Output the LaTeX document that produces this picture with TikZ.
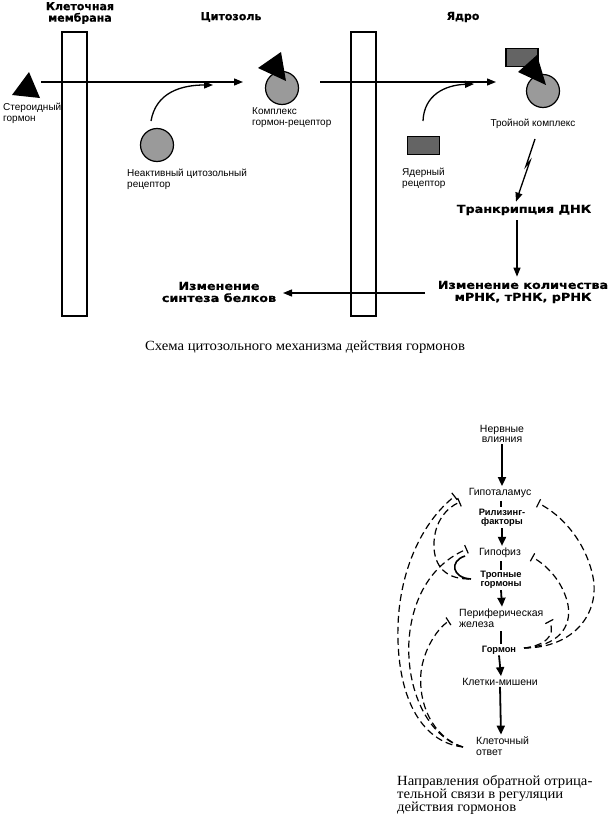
\documentclass[tikz,border=0pt]{standalone}
\usepackage{fontspec}
\setmainfont{Liberation Sans}
\newfontfamily\heavy{DejaVu Sans}[FakeBold=0.6]
\newfontfamily\heavyw{DejaVu Sans}[FakeStretch=1.16, FakeBold=0.6]
\newfontfamily\capfont{Liberation Serif}[FakeStretch=1.05]
\usetikzlibrary{arrows.meta,calc}
\definecolor{lightg}{HTML}{9A9A9A}
\definecolor{darkg}{HTML}{646464}
\tikzset{
  lbl/.style={font=\fontsize{10}{11}\selectfont, align=left, inner sep=0pt},
  lblc/.style={font=\fontsize{10}{11}\selectfont, align=center, inner sep=0pt},
  hd/.style={font=\heavy\bfseries\fontsize{11}{11.5}\selectfont, align=center, inner sep=0pt},
  hdw/.style={font=\heavyw\bfseries\fontsize{11}{12}\selectfont, align=center, inner sep=0pt},
  lo/.style={font=\fontsize{10.5}{10.5}\selectfont, align=center, inner sep=1pt},
  lob/.style={font=\bfseries\fontsize{9.3}{9.5}\selectfont, align=center, inner sep=1pt},
  memb/.style={draw, line width=1.2pt, minimum width=25pt, minimum height=284pt, inner sep=0pt, outer sep=0pt, anchor=north west},
  rec/.style={draw, circle, fill=lightg, line width=1.2pt, minimum size=33pt, inner sep=0pt},
  nrec/.style={draw, rectangle, fill=darkg, line width=1.2pt, minimum width=32pt, minimum height=18pt, inner sep=0pt},
  arr/.style={line width=1.3pt, -{Triangle[length=9pt,width=7pt]}},
  arrb/.style={line width=1.8pt, -{Triangle[length=9pt,width=8pt]}},
  stem/.style={line width=1.8pt},
  fb/.style={line width=1.2pt, dash pattern=on 7pt off 4pt},
  inh/.style={-{Bar[width=9pt,line width=1.2pt]}},
  captxt/.style={font=\capfont\fontsize{14}{13.3}\selectfont, inner sep=0pt}
}
\begin{document}
\begin{tikzpicture}[x=1pt,y=-1pt]
\useasboundingbox (0,0) rectangle (611,819);
% ---------- top diagram ----------
\node[hd] (hmem) at (80,13) {Клеточная\\мембрана};
\node[hd] (hcyt) at (231,17) {Цитозоль};
\node[hd] (hnuc) at (463,17) {Ядро};
\node[memb] (mem1) at (62,32) {};
\node[memb] (mem2) at (351,32) {};
% hormone
\fill (29,72) -- (12,95) -- (40,98) -- cycle;
\node[lbl, anchor=west] (lhorm) at (3,113) {Стероидный\\гормон};
\coordinate (h0) at (41,82);
\coordinate (c0) at (243,82);
\draw[arr] (h0) -- (c0);
% inactive receptor
\node[rec] (inact) at (157,145) {};
\node[lbl, anchor=west] (linact) at (127,179) {Неактивный цитозольный\\рецептор};
\coordinate (r1s) at (151,121);
\coordinate (r1e) at (213,85);
\draw[arr] (r1s) .. controls (156,92) and (182,85) .. (r1e);
% complex
\node[rec] (cplx) at (282,88) {};
\fill (281,52) -- (258,68) -- (286,81) -- cycle;
\node[lbl, anchor=west] (lcplx) at (252,118) {Комплекс\\гормон-рецептор};
\coordinate (h1) at (320,82);
\coordinate (c1) at (496,82);
\draw[arr] (h1) -- (c1);
% nuclear receptor
\node[nrec] (nrec) at (423.5,145.5) {};
\node[lbl, anchor=west] (lnrec) at (402,178) {Ядерный\\рецептор};
\coordinate (r2s) at (423,121);
\coordinate (r2e) at (474,84);
\draw[arr] (r2s) .. controls (424,95) and (445,85) .. (r2e);
% triple complex
\node[nrec] (tdark) at (522,57.5) {};
\node[rec] (tcirc) at (543,91) {};
\fill (537,55) -- (518,72) -- (546,85) -- cycle;
\node[lblc] (ltrip) at (533,124) {Тройной комплекс};
\coordinate (z0) at (535,139);
\coordinate (z1) at (526,166);
\coordinate (z2) at (530,161);
\node[hdw] (trans) at (524,210) {Транкрипция ДНК};
\draw[arr] (z0) -- (z1) -- (z2) -- ($(trans.north)+(-8,-3)$);
\node[hdw] (chg) at (523,292) {Изменение количества\\мРНК, тРНК, рРНК};
\draw[arr] ($(trans.south)+(-7,5)$) -- ($(chg.north)+(-6,-4)$);
\node[hdw] (syn) at (219,292) {Изменение\\синтеза белков};
\coordinate (a3s) at (425,293);
\coordinate (a3e) at (283,293);
\draw[arr] (a3s) -- (a3e);
\node[captxt] (cap1) at (305,347) {Схема цитозольного механизма действия гормонов};
% ---------- bottom diagram ----------
\node[lo] (nerv) at (502,434) {Нервные\\влияния};
\node[lo] (hyp) at (500,493) {Гипоталамус};
\node[lob] (rf) at (502,518) {Рилизинг-\\факторы};
\node[lo] (pit) at (500,553) {Гипофиз};
\node[lob] (tr) at (501,580) {Тропные\\гормоны};
\node[lo, align=left, anchor=west] (per) at (458,618) {Периферическая\\железа};
\node[lob] (hor) at (499,650) {Гормон};
\node[lo] (tgt) at (500,682) {Клетки-мишени};
\node[lo, align=left, anchor=west] (resp) at (475,746) {Клеточный\\ответ};
\node[captxt, align=left, anchor=north west] (cap2) at (397,775) {Направления обратной отрица-\\тельной связи в регуляции\\действия гормонов};
\draw[arrb] (nerv.south) -- ($(hyp.north)+(2,-1)$);
\draw[stem] ($(hyp.south)+(1,2)$) -- ($(rf.north)+(-1,-1)$);
\draw[arrb] (rf.south) -- ($(pit.north)+(2,-1)$);
\draw[stem] ($(pit.south)+(1,2)$) -- (tr.north);
\draw[arrb] (tr.south) -- ($(per.north west)+(44,-1)$);
\draw[stem] ($(per.south west)+(43,3)$) -- ($(hor.north)+(2,-1)$);
\draw[arrb] (hor.south) -- ($(tgt.north)+(1,-1)$);
\draw[arrb] (tgt.south) -- ($(resp.north west)+(26,-1)$);
% feedback, left side
\coordinate (rsp) at (463,747);
\coordinate (hypL1) at (455,496);
\coordinate (hypL2) at (460,502);
\coordinate (pitL) at (467,549);
\coordinate (perL) at (449,621);
\coordinate (trL) at (469,579);
\draw[fb, inh] (rsp) .. controls (420,742) and (396,695) .. (398,625) .. controls (400,570) and (422,522) .. (hypL1);
\draw[fb, inh] (rsp) .. controls (428,737) and (406,690) .. (409,640) .. controls (412,600) and (430,565) .. (pitL);
\draw[fb, inh] (rsp) .. controls (432,737) and (418,703) .. (421,672) .. controls (424,648) and (438,628) .. (perL);
\draw[fb, inh] (trL) .. controls (442,579) and (433,562) .. (434,542) .. controls (435,522) and (446,508) .. (hypL2);
\draw[line width=1.6pt] (471,579) .. controls (452,578) and (449,561) .. (465,556);
% feedback, right side
\coordinate (horR) at (524,648);
\coordinate (hypR) at (538,503);
\coordinate (pitR) at (532,557);
\coordinate (perR) at (549,621);
\draw[fb, inh] (horR) .. controls (575,648) and (600,612) .. (593,577) .. controls (586,542) and (562,515) .. (hypR);
\draw[fb, inh] (horR) .. controls (558,646) and (572,627) .. (568,605) .. controls (564,585) and (550,567) .. (pitR);
\draw[fb, inh] (horR) .. controls (543,646) and (557,636) .. (perR);
\end{tikzpicture}
\end{document}
